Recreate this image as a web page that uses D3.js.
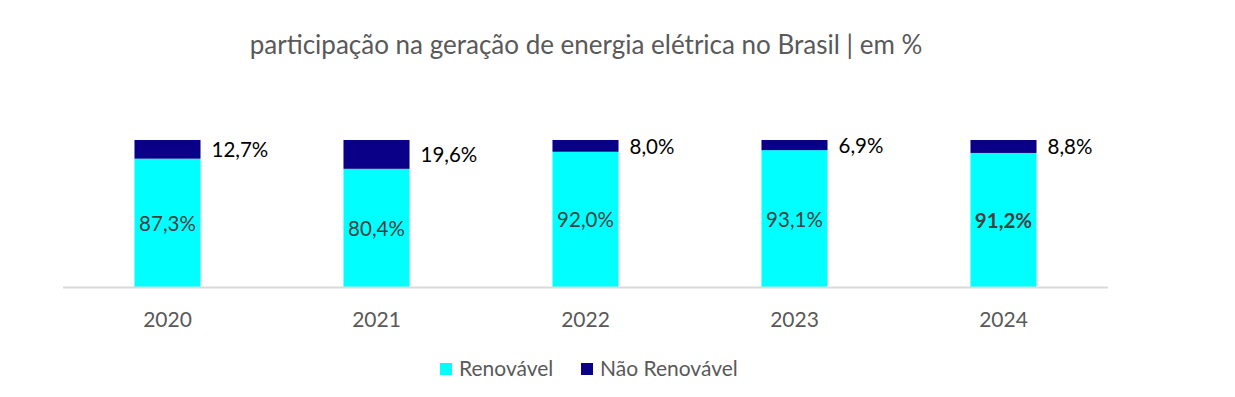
<!DOCTYPE html>
<html><head><meta charset="utf-8">
<script src="https://cdn.jsdelivr.net/npm/d3@7"></script>
<style>body{margin:0;background:#fff;} text{font-family:Lato, "Open Sans", sans-serif;}</style>
</head><body><svg id="c" width="1235" height="397"></svg>
<script>
const title = "participação na geração de energia elétrica no Brasil | em %";
const years = ["2020","2021","2022","2023","2024"];
const renovavel = [87.3, 80.4, 92.0, 93.1, 91.2];
const naoRenovavel = [12.7, 19.6, 8.0, 6.9, 8.8];
const seriesNames = ["Renovável","Não Renovável"];
const colors = ["#00FFFF","#0A0088"];

const svg = d3.select("#c");
const x = d3.scaleBand().domain(years).range([63,1108]).paddingInner(0.684).paddingOuter(0.342);
const y = d3.scaleLinear().domain([0,100]).range([287,140]);
const fmt = v => v.toFixed(1).replace(".", ",") + "%";

const rows = years.map((yr,i)=>({year:yr, r:renovavel[i], n:naoRenovavel[i]}));
const stack = d3.stack().keys(["r","n"])(rows);

// title
svg.append("text").attr("x", 586).attr("y", 54).attr("text-anchor","middle")
  .attr("fill","#595959").attr("font-size",26).text(title);

stack.forEach((s,k)=>{
  svg.append("g").selectAll("rect").data(s).join("rect")
    .attr("x", d=>x(d.data.year)).attr("width", x.bandwidth())
    .attr("y", d=>y(d[1])).attr("height", d=>y(d[0])-y(d[1]))
    .attr("fill", colors[k]);
});

// axis
svg.append("line").attr("x1",63).attr("x2",1108).attr("y1",287.5).attr("y2",287.5)
  .attr("stroke","#d9d9d9").attr("stroke-width",2);
svg.append("g").selectAll("text").data(years).join("text")
  .attr("x", d=>x(d)+x.bandwidth()/2).attr("y", 327).attr("text-anchor","middle")
  .attr("fill","#595959").attr("font-size",21).text(d=>d);

// labels renovavel
svg.append("g").selectAll("text").data(stack[0]).join("text")
  .attr("x", d=>x(d.data.year)+x.bandwidth()/2).attr("y", d=>(y(d[0])+y(d[1]))/2 + 8)
  .attr("text-anchor","middle").attr("fill","#404040").attr("font-size",20.5)
  .attr("font-weight",(d,i)=>i===4?"bold":"normal")
  .text(d=>fmt(d.data.r));
// labels nao renovavel
svg.append("g").selectAll("text").data(stack[1]).join("text")
  .attr("x", d=>x(d.data.year)+x.bandwidth()+11).attr("y", d=>(y(d[0])+y(d[1]))/2 + 8)
  .attr("fill","#000").attr("font-size",20.5)
  .text(d=>fmt(d.data.n));

// legend
const lg = svg.append("g");
const lx = [440, 581];
seriesNames.forEach((nm,i)=>{
  lg.append("rect").attr("x",lx[i]).attr("y",363).attr("width",12).attr("height",12).attr("fill",colors[i]);
  lg.append("text").attr("x",lx[i]+19).attr("y",376).attr("fill","#595959").attr("font-size",21).text(nm);
});
</script></body></html>
